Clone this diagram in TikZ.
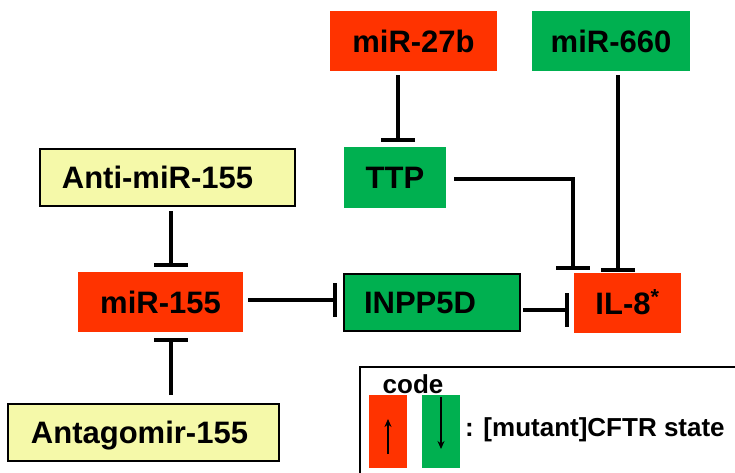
\documentclass[tikz,border=0pt]{standalone}
\usepackage{fontspec}
\setmainfont{Liberation Sans}
\usetikzlibrary{arrows.meta}
\definecolor{cred}{HTML}{FF3300}
\definecolor{cgreen}{HTML}{00B050}
\definecolor{cyellow}{HTML}{F5F9A9}
\begin{document}
\begin{tikzpicture}[x=1pt,y=-1pt,
  box/.style={inner sep=0pt, font=\fontsize{31}{31}\selectfont\bfseries, text height=22pt, text depth=0pt},
  redbox/.style={box, fill=cred},
  greenbox/.style={box, fill=cgreen},
  yelbox/.style={box, fill=cyellow, draw=black, line width=2pt},
  inh/.style={line width=3.8pt, -{Bar[width=34pt,line width=3.8pt]}},
  legtext/.style={inner sep=0pt, font=\fontsize{26}{26}\selectfont\bfseries},
  legarrow/.style={line width=1.5pt, -{Stealth[length=8pt,width=7pt]}}]
\useasboundingbox (0,0) rectangle (735,472);
% nodes
\node[redbox, minimum width=167pt, minimum height=60pt] (m27) at (413.5,41) {miR-27b};
\node[greenbox, minimum width=158pt, minimum height=60pt] (m660) at (611,41) {miR-660};
\node[greenbox, minimum width=102pt, minimum height=61pt] (ttp) at (395,177.5) {TTP};
\node[redbox, minimum width=107pt, minimum height=60pt] (il8) at (627.5,303) {IL-8\textsuperscript{*}};
\node[greenbox, draw=black, line width=2pt, minimum width=176pt, minimum height=57pt] (inpp) at (432,302.5) {INPP5D\hspace*{24pt}};
\node[yelbox, minimum width=255pt, minimum height=57pt] (anti) at (167.5,177.5) {Anti-miR-155\hspace*{20pt}};
\node[redbox, minimum width=165pt, minimum height=60pt] (m155) at (160.5,302) {miR-155};
\node[yelbox, minimum width=271pt, minimum height=57pt] (antag) at (143.5,432.5) {Antagomir-155\hspace*{8pt}};
% connectors
\draw[inh, shorten <=4pt, shorten >=5pt] ([xshift=3pt]ttp.north |- m27.south) -- ([xshift=3pt]ttp.north);
\draw[inh, shorten <=4pt, shorten >=1pt] ([xshift=-9.5pt]il8.north |- m660.south) -- ([xshift=-9.5pt]il8.north);
\draw[inh, shorten <=8pt, shorten >=3pt] ([yshift=-1.5pt]ttp.east) -| ([xshift=-1pt]il8.north west);
\draw[inh, shorten <=5pt, shorten >=6pt] ([yshift=2pt]m155.east) -- ([yshift=2pt]m155.east -| inpp.west);
\draw[inh, shorten <=2pt, shorten >=5pt] ([yshift=-7.5pt]inpp.east) -- ([yshift=-7.5pt]inpp.east -| il8.west);
\draw[inh, shorten <=4pt, shorten >=5pt] ([xshift=3.5pt]anti.south) -- ([xshift=3.5pt]anti.south |- m155.north);
\draw[inh, shorten <=8pt, shorten >=6pt] ([xshift=10.5pt]m155.south |- antag.north) -- ([xshift=10.5pt]m155.south);
% legend
\draw[line width=2.5pt] (360,474) -- (360,367) -- (737,367);
\node[legtext, anchor=base] (code) at (413,393) {code};
\node[fill=cred, inner sep=0pt, minimum width=38pt, minimum height=73pt] (lr) at (388,431.5) {};
\node[fill=cgreen, inner sep=0pt, minimum width=38pt, minimum height=73pt] (lg) at (441,431.5) {};
\coordinate (lrb) at (388,454);
\coordinate (lrt) at (388,419);
\coordinate (lgt) at (441,397);
\coordinate (lgb) at (441,449);
\draw[legarrow] (lrb) -- (lrt);
\draw[legarrow] (lgt) -- (lgb);
\node[legtext, anchor=base west] (state) at (465,436) {: [mutant]CFTR state};
\end{tikzpicture}
\end{document}
